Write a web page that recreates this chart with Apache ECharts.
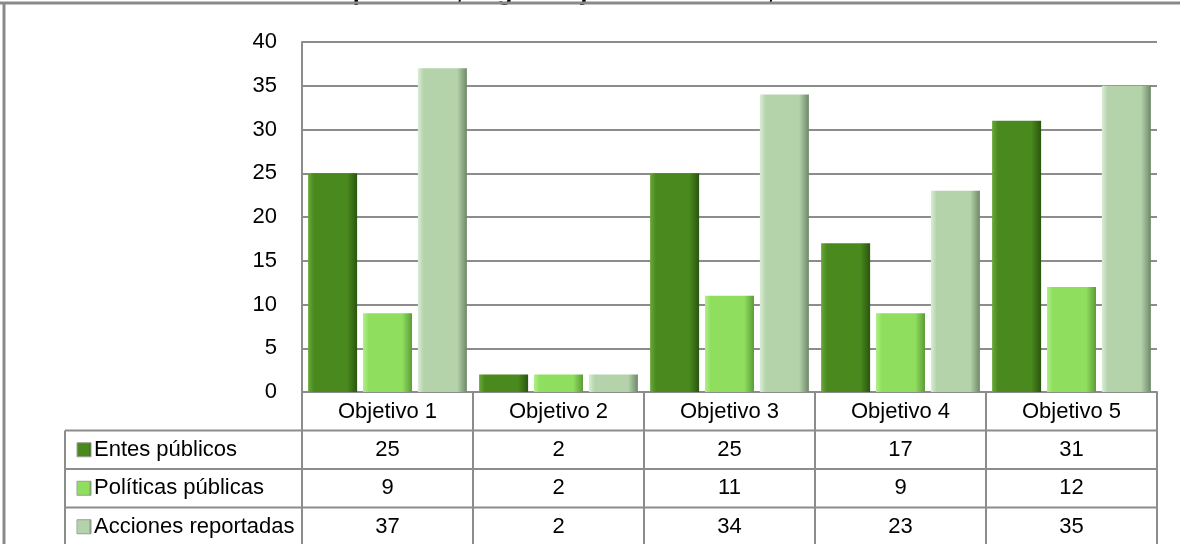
<!DOCTYPE html>
<html>
<head>
<meta charset="utf-8">
<script src="https://cdn.jsdelivr.net/npm/echarts@6/dist/echarts.min.js"></script>
<style>
  html, body { margin: 0; background: #fff; }
  #chart { width: 1180px; height: 544px; }
</style>
</head>
<body>
<div id="chart"></div>
<script>
const titleText = 'Entes públicos, según objetivo del PNDH, 2014';
const categories = ['Objetivo 1', 'Objetivo 2', 'Objetivo 3', 'Objetivo 4', 'Objetivo 5'];
const seriesNames = ['Entes públicos', 'Políticas públicas', 'Acciones reportadas'];
const entes = [25, 2, 25, 17, 31];
const politicas = [9, 2, 11, 9, 12];
const acciones = [37, 2, 34, 23, 35];
const yMin = 0, yMax = 40, yStep = 5;

const font = "'Liberation Sans', Arial, sans-serif";
const lineColor = '#8c8c8c';
const rowH = 38.5;
const tableLeft = 65;

function bevel(light, base, dark) {
    return new echarts.graphic.LinearGradient(0, 0, 1, 0, [
        { offset: 0, color: light },
        { offset: 0.12, color: base },
        { offset: 0.8, color: base },
        { offset: 1, color: dark }
    ]);
}
const colors = [
    bevel('#6aa83a', '#4a891e', '#2a560e'),
    bevel('#b0f088', '#8fde5e', '#5c9c38'),
    bevel('#dcecd6', '#b4d3ab', '#6e8868')
];
const values = [entes, politicas, acciones];

const chart = echarts.init(document.getElementById('chart'));
chart.setOption({
    animation: false,
    backgroundColor: '#fff',
    grid: { left: 302, right: 23, top: 42, bottom: 152 },
    xAxis: {
        type: 'category',
        data: categories,
        axisLine: { lineStyle: { color: lineColor, width: 2 } },
        axisTick: { show: true, length: rowH * 4, lineStyle: { color: lineColor, width: 2 } },
        axisLabel: { color: '#000', fontFamily: font, fontSize: 22, margin: 9 }
    },
    yAxis: {
        type: 'value',
        min: yMin,
        max: yMax,
        interval: yStep,
        axisLine: { show: true, lineStyle: { color: lineColor, width: 2 } },
        axisTick: { show: false },
        splitLine: { lineStyle: { color: lineColor, width: 2 } },
        axisLabel: { color: '#000', fontFamily: font, fontSize: 22, margin: 25 }
    },
    series: values.map((d, i) => ({
        name: seriesNames[i],
        type: 'bar',
        data: d,
        barWidth: 49,
        barGap: '12%',
        itemStyle: { color: colors[i] },
        emphasis: { disabled: true }
    }))
});

// data table below the plot, positioned from the axes
const cx = categories.map((c, i) => chart.convertToPixel({ xAxisIndex: 0 }, i));
const catW = cx[1] - cx[0];
const tableRight = cx[cx.length - 1] + catW / 2;
const y0 = chart.convertToPixel({ yAxisIndex: 0 }, 0);

const graphic = [];
graphic.push({
    type: 'text', x: 557, y: -7,
    style: { text: titleText, font: 'bold 25px ' + font, fill: '#000', align: 'center', verticalAlign: 'middle' }
});
for (let k = 1; k <= 4; k++) {
    graphic.push({
        type: 'line',
        shape: { x1: tableLeft, y1: y0 + k * rowH, x2: tableRight, y2: y0 + k * rowH },
        style: { stroke: lineColor, lineWidth: 2 }
    });
}
graphic.push({
    type: 'line',
    shape: { x1: tableLeft, y1: y0 + rowH, x2: tableLeft, y2: y0 + 4 * rowH },
    style: { stroke: lineColor, lineWidth: 2 }
});
values.forEach((d, r) => {
    const my = y0 + (r + 1.5) * rowH;
    graphic.push({
        type: 'rect',
        shape: { x: 77, y: my - 7, width: 14, height: 14 },
        style: { fill: colors[r], stroke: '#9a9a9a', lineWidth: 1 }
    });
    graphic.push({
        type: 'text', x: 94, y: my,
        style: { text: seriesNames[r], font: '22px ' + font, fill: '#000', align: 'left', verticalAlign: 'middle' }
    });
    d.forEach((v, c) => {
        graphic.push({
            type: 'text', x: cx[c], y: my,
            style: { text: String(v), font: '22px ' + font, fill: '#000', align: 'center', verticalAlign: 'middle' }
        });
    });
});
// outer frame
graphic.push({ type: 'line', shape: { x1: 0, y1: 3, x2: 1180, y2: 3 }, style: { stroke: '#8a8a8a', lineWidth: 3 } });
graphic.push({ type: 'line', shape: { x1: 4, y1: 3, x2: 4, y2: 544 }, style: { stroke: '#8a8a8a', lineWidth: 3 } });

chart.setOption({ graphic: graphic });
</script>
</body>
</html>
